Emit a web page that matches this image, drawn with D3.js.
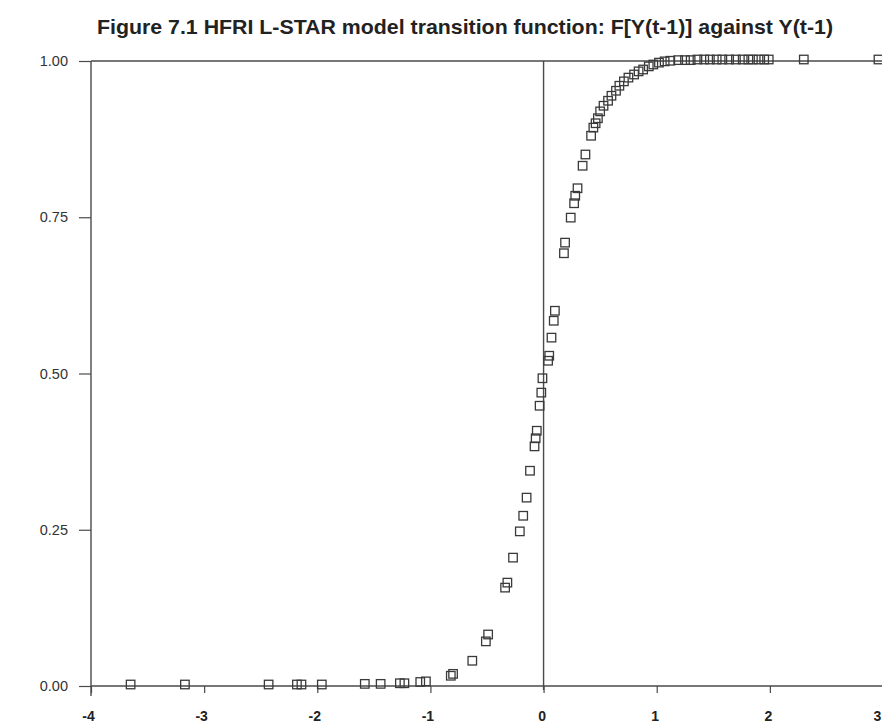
<!DOCTYPE html>
<html>
<head>
<meta charset="utf-8">
<script src="https://cdn.jsdelivr.net/npm/d3@7"></script>
<style>
  html, body { margin: 0; padding: 0; background: #ffffff; }
  svg { display: block; }
</style>
</head>
<body>
<script>
// ---- Data ----
const titleText = "Figure 7.1 HFRI L-STAR model transition function: F[Y(t-1)] against Y(t-1)";
const xTicks = [-4, -3, -2, -1, 0, 1, 2, 3];
const yTicks = [0, 0.25, 0.5, 0.75, 1.0];

// Y(t-1) values
const yLag = [
  -3.65, -3.17, -2.43, -2.18, -2.14, -1.96, -1.58, -1.44, -1.27, -1.23,
  -1.09, -1.04, -0.82, -0.80, -0.63, -0.51, -0.49, -0.34, -0.32, -0.27,
  -0.21, -0.18, -0.15, -0.12, -0.08, -0.07, -0.06, -0.035, -0.02, -0.01,
  0.04, 0.05, 0.07, 0.09, 0.10, 0.18, 0.19, 0.24, 0.27, 0.28,
  0.30, 0.345, 0.37, 0.42, 0.44, 0.46, 0.48, 0.50, 0.53, 0.57,
  0.60, 0.64, 0.67, 0.71, 0.75, 0.80, 0.84, 0.88, 0.93, 0.97,
  1.02, 1.07, 1.12, 1.19, 1.25, 1.30, 1.36, 1.42, 1.47, 1.53,
  1.58, 1.64, 1.70, 1.76, 1.81, 1.85, 1.90, 1.95, 1.99, 2.30,
  2.96
];
// F[Y(t-1)] values
const fValue = [
  0.000, 0.000, 0.000, 0.000, 0.000, 0.000, 0.001, 0.001, 0.002, 0.002,
  0.004, 0.005, 0.014, 0.017, 0.038, 0.069, 0.080, 0.155, 0.163, 0.203,
  0.245, 0.270, 0.299, 0.342, 0.381, 0.394, 0.406, 0.446, 0.467, 0.490,
  0.518, 0.526, 0.555, 0.582, 0.598, 0.690, 0.707, 0.747, 0.770, 0.782,
  0.794, 0.830, 0.848, 0.878, 0.891, 0.898, 0.906, 0.917, 0.926, 0.934,
  0.942, 0.950, 0.958, 0.965, 0.971, 0.976, 0.981, 0.984, 0.989, 0.992,
  0.995, 0.997, 0.998, 0.999, 0.999, 0.999, 1.000, 1.000, 1.000, 1.000,
  1.000, 1.000, 1.000, 1.000, 1.000, 1.000, 1.000, 1.000, 1.000, 1.000,
  1.000
];

// ---- Drawing ----
const W = 882, H = 724;
const svg = d3.select("body").append("svg").attr("width", W).attr("height", H);

const x = d3.scaleLinear().domain([-4, 3]).range([91, 883]);
const y = d3.scaleLinear().domain([0, 1]).range([686, 61]);

const axisColor = "#4a4a4a";
const font = "'Liberation Sans', Arial, Helvetica, sans-serif";

// Title
svg.append("text")
  .attr("x", 465).attr("y", 34)
  .attr("text-anchor", "middle")
  .attr("font-family", font)
  .attr("font-weight", "bold")
  .attr("font-size", 20.5)
  .attr("textLength", 736)
  .attr("lengthAdjust", "spacingAndGlyphs")
  .attr("fill", "#222")
  .text(titleText);

// Horizontal line at F = 1
svg.append("line")
  .attr("x1", x(-4)).attr("x2", x(3))
  .attr("y1", y(1)).attr("y2", y(1))
  .attr("stroke", axisColor).attr("stroke-width", 1.4);

// Vertical line at Y = 0
svg.append("line")
  .attr("x1", x(0)).attr("x2", x(0))
  .attr("y1", y(1)).attr("y2", y(0) + 4)
  .attr("stroke", axisColor).attr("stroke-width", 1.4);

// Y axis (at x = -4)
const yAxis = d3.axisLeft(y)
  .tickValues(yTicks)
  .tickFormat(d3.format(".2f"))
  .tickSize(12)
  .tickSizeOuter(0)
  .tickPadding(11);
const gy = svg.append("g").attr("transform", `translate(${x(-4)},0)`).call(yAxis);
gy.select(".domain").attr("stroke", axisColor).attr("stroke-width", 1.4)
  .attr("d", `M0,${y(1)}V${y(0) + 10}`);
gy.selectAll(".tick line").attr("stroke", axisColor).attr("stroke-width", 1.2);
gy.selectAll(".tick text")
  .attr("font-family", font).attr("font-size", 14.5).attr("fill", "#333");

// X axis (at F = 0)
const xAxis = d3.axisBottom(x)
  .tickValues(xTicks)
  .tickFormat(d => String(d))
  .tickSize(7)
  .tickSizeOuter(0)
  .tickPadding(18);
const gx = svg.append("g").attr("transform", `translate(0,${y(0)})`).call(xAxis);
gx.select(".domain").attr("stroke", axisColor).attr("stroke-width", 1.4)
  .attr("d", `M${x(-4)},0H${x(3)}`);
gx.selectAll(".tick line").attr("stroke", axisColor).attr("stroke-width", 1.2);
gx.selectAll(".tick text")
  .attr("font-family", font).attr("font-weight", "bold")
  .attr("font-size", 14).attr("fill", "#222")
  .attr("dx", d => d === 3 ? -6 : (d < 0 ? -3 : -2));

// Points: hollow squares
const pts = yLag.map((v, i) => ({ xv: v, yv: fValue[i] }));
const s = 8.5;
svg.append("g").selectAll("rect")
  .data(pts)
  .join("rect")
  .attr("x", d => x(d.xv) - s / 2)
  .attr("y", d => y(d.yv) - s / 2 - 1.5)
  .attr("width", s).attr("height", s)
  .attr("fill", "none")
  .attr("stroke", "#3a3a3a")
  .attr("stroke-width", 1.3);
</script>
</body>
</html>
